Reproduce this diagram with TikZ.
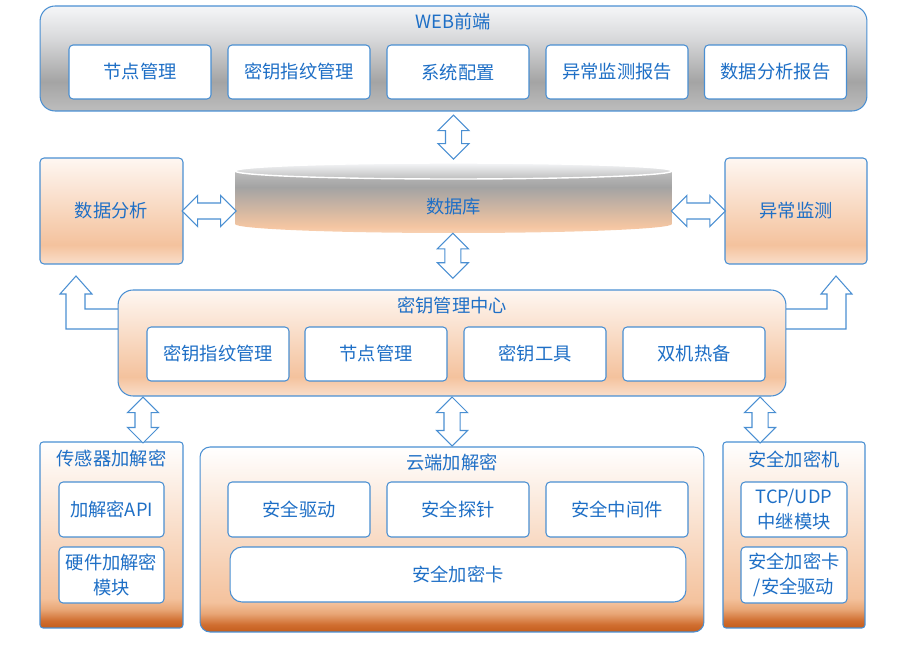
\documentclass[tikz,border=0pt]{standalone}
\usepackage{fontspec}
\setmainfont{Noto Sans CJK SC}
\usetikzlibrary{shapes.arrows,calc,positioning}
\definecolor{lineblue}{HTML}{4A8FD2}
\definecolor{textblue}{HTML}{1E6FC6}
\definecolor{grA}{HTML}{BDBDBD}
\definecolor{grB}{HTML}{A4A4A4}
\definecolor{grC}{HTML}{D9DADC}
\definecolor{grD}{HTML}{F5F6F8}
\definecolor{orA}{HTML}{FADFCB}
\definecolor{orB}{HTML}{F4C29D}
\definecolor{orC}{HTML}{FEF7F2}
\definecolor{brA}{HTML}{C45D1C}
\definecolor{brM}{HTML}{D06E30}
\definecolor{brB}{HTML}{E8A676}
\definecolor{dbA}{HTML}{F8D2B4}
\definecolor{dbB}{HTML}{F5C6A2}
\definecolor{dbC}{HTML}{A3A3A3}
\definecolor{dbD}{HTML}{BDBDBD}
\pgfdeclareverticalshading{grayband}{100bp}{color(0bp)=(grA); color(25bp)=(grA); color(39bp)=(grB); color(60bp)=(grC); color(75bp)=(grD); color(100bp)=(grD)}
\pgfdeclareverticalshading{orangeband}{100bp}{color(0bp)=(orA); color(25bp)=(orA); color(34bp)=(orB); color(75bp)=(orC); color(100bp)=(orC)}
\pgfdeclareverticalshading{brownband}{100bp}{color(0bp)=(brA); color(25bp)=(brA); color(27bp)=(brM); color(30bp)=(brB); color(33bp)=(orB); color(75bp)=(white); color(100bp)=(white)}
\pgfdeclareverticalshading{dbband}{100bp}{color(0bp)=(dbA); color(25bp)=(dbA); color(30bp)=(dbB); color(62bp)=(dbC); color(75bp)=(dbD); color(100bp)=(dbD)}
\pgfdeclarelayer{background}
\pgfsetlayers{background,main}
\tikzset{
txt/.style={text=textblue,font=\fontsize{10.4pt}{14pt}\selectfont,align=center,inner sep=0pt},
item/.style={txt,draw=lineblue,line width=0.6pt,fill=white,rounded corners=0.08cm,
  minimum width=2.84cm,minimum height=1.08cm},
panel/.style={draw=lineblue,line width=0.6pt,shade,shading=orangeband,rounded corners=0.08cm},
brownpanel/.style={panel,shading=brownband,rounded corners=0.06cm},
darrow/.style={double arrow,draw=lineblue,fill=white,line width=0.6pt,inner xsep=0pt,
  inner ysep=0.15cm,minimum height=#1,double arrow head extend=0.15cm},
vdarrow/.style={darrow=#1,shape border rotate=90,inner xsep=0.15cm,inner ysep=0pt},
bent/.style={draw=lineblue,fill=white,line width=0.6pt},
}

\begin{document}
\begin{tikzpicture}[x=0.02cm,y=-0.02cm]
\useasboundingbox (0,0) rectangle (902,645);

% WEB front end
\node[draw=lineblue,line width=0.6pt,shade,shading=grayband,rounded corners=0.3cm,
  minimum width=16.54cm,minimum height=2.1cm] (web) at (453.5,58.5) {};
\node[txt] (webt) at (453.5,22) {WEB前端};
\node[item] (w1) at (140,72) {节点管理};
\node[item] (w2) at (299,72) {密钥指纹管理};
\node[item] (w3) at (458,72) {系统配置};
\node[item] (w4) at (617,72) {异常监测报告};
\node[item] (w5) at (775.5,72) {数据分析报告};

% database
\shade[shading=dbband] (235,171) -- (235,224)
  arc[start angle=180,end angle=0,x radius=218.5,y radius=9] -- (672,171) -- cycle;
\shade[top color=grD,bottom color=grA] (453.5,171) ellipse[x radius=218.5,y radius=8];
\draw[white,line width=0.8pt] (453.5,171) ellipse[x radius=218.5,y radius=8];
\node[minimum width=8.74cm,minimum height=1.4cm,inner sep=0pt] (db) at (453.5,198) {};
\node[txt] (dbt) at (453.5,207) {数据库};

% side boxes
\node[panel,txt,minimum width=2.86cm,minimum height=2.12cm] (ana) at (111.5,211) {数据分析};
\node[panel,txt,minimum width=2.84cm,minimum height=2.12cm] (mon) at (796,211) {异常监测};

% bent arrows to side boxes
\begin{pgfonlayer}{background}
\draw[bent] (130,309) -- (85,309) -- (85,294) -- (92,294) -- (76,276)
  -- (60,294) -- (66,294) -- (66,329) -- (130,329);
\draw[bent] (774,309) -- (827,309) -- (827,294) -- (821,294) -- (836,276)
  -- (852,294) -- (846,294) -- (846,329) -- (774,329);
\end{pgfonlayer}

% key management centre
\node[panel,rounded corners=0.3cm,minimum width=13.36cm,minimum height=2.12cm] (kmc) at (452,343) {};
\node[txt] (kmct) at (452,306) {密钥管理中心};
\node[item] (k1) at (218,354) {密钥指纹管理};
\node[item] (k2) at (376,354) {节点管理};
\node[item] (k3) at (535,354) {密钥工具};
\node[item] (k4) at (694,354) {双机热备};

% bottom boxes
\node[brownpanel,minimum width=2.86cm,minimum height=3.72cm] (sens) at (111.5,535) {};
\node[txt] (senst) at (111.5,458) {传感器加解密};
\node[item,minimum width=2.1cm,minimum height=1.1cm] (s1) at (111.5,509.5) {加解密API};
\node[item,minimum width=2.1cm,minimum height=1.12cm] (s2) at (111.5,575) {硬件加解密\\模块};

\node[brownpanel,rounded corners=0.2cm,minimum width=10.08cm,minimum height=3.7cm] (cloud) at (452,539.5) {};
\node[txt] (cloudt) at (452,462) {云端加解密};
\node[item,minimum height=1.1cm] (c1) at (299,509.5) {安全驱动};
\node[item,minimum height=1.1cm] (c2) at (458,509.5) {安全探针};
\node[item,minimum height=1.1cm] (c3) at (617,509.5) {安全中间件};
\node[item,rounded corners=0.24cm,minimum width=9.12cm,minimum height=1.1cm] (c4) at (458,574.5) {安全加密卡};

\node[brownpanel,minimum width=2.84cm,minimum height=3.72cm] (hsm) at (794,535) {};
\node[txt] (hsmt) at (794,459) {安全加密机};
\node[item,minimum width=2.12cm,minimum height=1.1cm] (h1) at (794,509.5) {TCP/UDP\\中继模块};
\node[item,minimum width=2.12cm,minimum height=1.12cm] (h2) at (794,575) {安全加密卡\\/安全驱动};

% double arrows
\node[vdarrow=0.88cm] (a1) at ($(web.south)!0.5!(db.north)$) {};
\node[vdarrow=0.9cm] (a2) at ($(db.south)!0.4!(kmc.north)$) {};
\node[darrow=1.08cm] (a3) at ($(ana.east)!0.5!(ana.east -| db.west)$) {};
\node[darrow=1.08cm] (a4) at ($(mon.west)!0.5!(mon.west -| db.east)$) {};
\node[vdarrow=0.92cm] (a5) at (143,420) {};
\node[vdarrow=0.98cm] (a6) at (452,421.5) {};
\node[vdarrow=0.92cm] (a7) at (760,420) {};
\end{tikzpicture}
\end{document}
